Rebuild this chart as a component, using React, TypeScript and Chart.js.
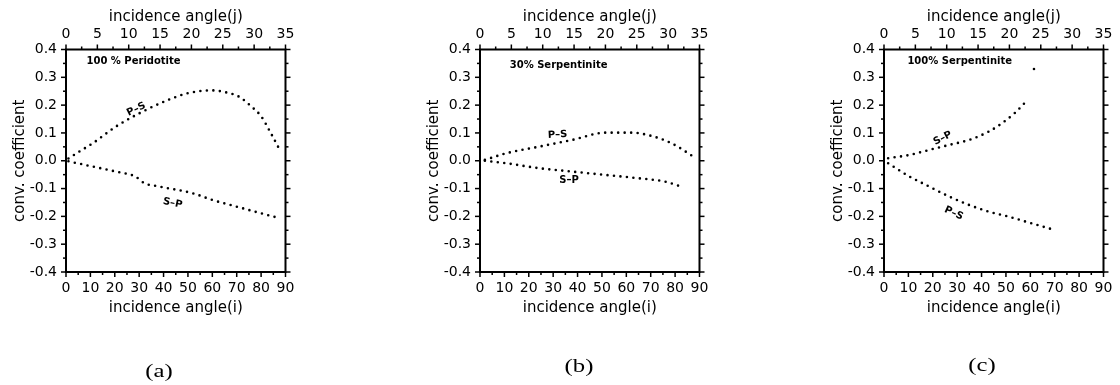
import React, { useEffect, useRef } from "react";
import { Chart, registerables } from "chart.js";
Chart.register(...registerables);

// ---------- tick labels ----------
const angleTicksI = [0, 10, 20, 30, 40, 50, 60, 70, 80, 90];
const angleTicksJ = [0, 5, 10, 15, 20, 25, 30, 35];
const coefTicks = [-0.4, -0.3, -0.2, -0.1, 0, 0.1, 0.2, 0.3, 0.4];

// ---------- (a) 100 % Peridotite ----------
const aPSAngle = [1, 6, 11, 20.5, 31.5, 42, 50, 60, 66, 71, 76, 80, 84, 88];
const aPSCoef = [0.008, 0.036, 0.063, 0.123, 0.177, 0.219, 0.243, 0.253, 0.245, 0.23, 0.195, 0.16, 0.099, 0.033];
const aSPAngle = [1, 11, 20.5, 28.5, 32, 38.5, 52, 60, 70, 80, 87.8];
const aSPCoef = [-0.002, -0.021, -0.039, -0.057, -0.08, -0.093, -0.117, -0.141, -0.165, -0.189, -0.207];

// ---------- (b) 30% Serpentinite ----------
const bPSAngle = [2, 10.8, 24.4, 37.9, 51.4, 62.2, 70.4, 78.5, 88.6];
const bPSCoef = [0.003, 0.027, 0.051, 0.075, 0.101, 0.101, 0.089, 0.063, 0.009];
const bSPAngle = [2, 10.8, 24.4, 37.9, 51.4, 65, 75.8, 82.5];
const bSPCoef = [0, -0.009, -0.027, -0.039, -0.051, -0.063, -0.075, -0.093];

// ---------- (c) 100% Serpentinite ----------
const cSPAngle = [1.7, 10.5, 18.6, 26.8, 34.9, 43, 48.4, 53.8, 56.5, 58.9];
const cSPCoef = [0.009, 0.021, 0.039, 0.057, 0.075, 0.105, 0.135, 0.173, 0.197, 0.219];
const cSPLoneAngle = [61.5];
const cSPLoneCoef = [0.33];
const cPSAngle = [1.7, 10.5, 18.6, 26.8, 34.9, 43, 51.1, 60.5, 70];
const cPSCoef = [-0.009, -0.057, -0.093, -0.129, -0.159, -0.183, -0.201, -0.225, -0.249];

type Curve = { angle: number[]; coef: number[] };
type Note = { text: string; x: number; y: number; rot: number; align: CanvasTextAlign };
type PanelSpec = {
  left: number;
  plotW: number;
  curves: Curve[];
  lone: Curve | null;
  notes: Note[];
  caption: string;
  capX: number;
  capY: number;
};

const panels: PanelSpec[] = [
  {
    left: 0,
    plotW: 221,
    curves: [
      { angle: aPSAngle, coef: aPSCoef },
      { angle: aSPAngle, coef: aSPCoef },
    ],
    lone: null,
    notes: [
      { text: "100 % Peridotite", x: 8.4, y: 0.357, rot: 0, align: "left" },
      { text: "P–S", x: 28.8, y: 0.185, rot: -26, align: "center" },
      { text: "S–P", x: 43.7, y: -0.153, rot: 12, align: "center" },
    ],
    caption: "(a)",
    capX: 159,
    capY: 370,
  },
  {
    left: 414,
    plotW: 221.7,
    curves: [
      { angle: bPSAngle, coef: bPSCoef },
      { angle: bSPAngle, coef: bSPCoef },
    ],
    lone: null,
    notes: [
      { text: "30% Serpentinite", x: 12.2, y: 0.342, rot: 0, align: "left" },
      { text: "P–S", x: 31.8, y: 0.093, rot: -3, align: "center" },
      { text: "S–P", x: 36.5, y: -0.072, rot: 0, align: "center" },
    ],
    caption: "(b)",
    capX: 579,
    capY: 365,
  },
  {
    left: 818,
    plotW: 222,
    curves: [
      { angle: cSPAngle, coef: cSPCoef },
      { angle: cPSAngle, coef: cPSCoef },
    ],
    lone: { angle: cSPLoneAngle, coef: cSPLoneCoef },
    notes: [
      { text: "100% Serpentinite", x: 9.6, y: 0.357, rot: 0, align: "left" },
      { text: "S–P", x: 24.1, y: 0.081, rot: -27, align: "center" },
      { text: "P–S", x: 28.6, y: -0.189, rot: 25, align: "center" },
    ],
    caption: "(c)",
    capX: 982,
    capY: 364,
  },
];

const CANVAS_W = 302;
const CANVAS_H = 385;
const LEFT_AXIS_W = 66;
const TOP_AXIS_H = 49.5;
const BOTTOM_AXIS_H = 50;
const PLOT_BOTTOM = 272;

const tickFont = { family: "'DejaVu Sans', sans-serif", size: 14 };
const titleFont = { family: "'DejaVu Sans', sans-serif", size: 15 };

function toPoints(c: Curve) {
  return c.angle.map((a, i) => ({ x: a, y: c.coef[i] }));
}

function makePlugin(p: PanelSpec) {
  return {
    id: "frameAndNotes",
    afterDraw(chart: any) {
      const { ctx, chartArea: ca, scales } = chart;
      const xs = scales.x;
      const xt = scales.x2;
      const ys = scales.y;
      ctx.save();
      ctx.strokeStyle = "#000";
      ctx.lineCap = "butt";
      const tick = (x1: number, y1: number, x2: number, y2: number) => {
        ctx.beginPath();
        ctx.moveTo(x1, y1);
        ctx.lineTo(x2, y2);
        ctx.stroke();
      };
      ctx.lineWidth = 1.5;
      const MAJ = 5;
      const MIN = 3;
      // bottom
      angleTicksI.forEach((v, i) => {
        const px = xs.getPixelForValue(v);
        tick(px, ca.bottom, px, ca.bottom + MAJ);
        if (i < angleTicksI.length - 1) {
          const m = xs.getPixelForValue((v + angleTicksI[i + 1]) / 2);
          tick(m, ca.bottom, m, ca.bottom + MIN);
        }
      });
      // top
      angleTicksJ.forEach((v, i) => {
        const px = xt.getPixelForValue(v);
        tick(px, ca.top, px, ca.top - MAJ);
        if (i < angleTicksJ.length - 1) {
          const m = xt.getPixelForValue((v + angleTicksJ[i + 1]) / 2);
          tick(m, ca.top, m, ca.top - MIN);
        }
      });
      // left & right
      coefTicks.forEach((v, i) => {
        const py = ys.getPixelForValue(v);
        tick(ca.left, py, ca.left - MAJ, py);
        tick(ca.right, py, ca.right + MAJ, py);
        if (i < coefTicks.length - 1) {
          const m = ys.getPixelForValue((v + coefTicks[i + 1]) / 2);
          tick(ca.left, m, ca.left - MIN, m);
          tick(ca.right, m, ca.right + MIN, m);
        }
      });
      // frame
      ctx.lineWidth = 2;
      ctx.strokeRect(ca.left, ca.top, ca.right - ca.left, ca.bottom - ca.top);

      // notes
      ctx.fillStyle = "#000";
      ctx.font = "bold 10px 'DejaVu Sans', sans-serif";
      ctx.textBaseline = "middle";
      p.notes.forEach((n) => {
        const px = xs.getPixelForValue(n.x);
        const py = ys.getPixelForValue(n.y);
        ctx.save();
        ctx.translate(px, py);
        ctx.rotate((n.rot * Math.PI) / 180);
        ctx.textAlign = n.align;
        ctx.fillText(n.text, 0, 0);
        ctx.restore();
      });
      ctx.restore();
    },
  };
}

const noGrid = { display: false, drawTicks: false };

function Panel({ p }: { p: PanelSpec }) {
  const ref = useRef<HTMLCanvasElement>(null);
  useEffect(() => {
    const rightW = CANVAS_W - LEFT_AXIS_W - p.plotW;
    const datasets: any[] = p.curves.map((c) => ({
      data: toPoints(c),
      xAxisID: "x",
      yAxisID: "y",
      borderColor: "#000",
      borderWidth: 2.6,
      borderDash: [0, 6.5],
      borderCapStyle: "round",
      pointRadius: 0,
      fill: false,
      cubicInterpolationMode: "monotone",
    }));
    if (p.lone) {
      datasets.push({
        data: toPoints(p.lone),
        xAxisID: "x",
        yAxisID: "y",
        showLine: false,
        pointRadius: 1.3,
        pointBorderWidth: 0,
        pointBackgroundColor: "#000",
        borderColor: "#000",
      });
    }
    const chart = new Chart(ref.current as HTMLCanvasElement, {
      type: "line",
      data: { datasets },
      options: {
        responsive: false,
        animation: false,
        events: [],
        layout: { padding: { left: 0, right: 0, top: 0, bottom: CANVAS_H - PLOT_BOTTOM - BOTTOM_AXIS_H } },
        plugins: { legend: { display: false }, tooltip: { enabled: false } },
        scales: {
          x: {
            type: "linear",
            position: "bottom",
            min: 0,
            max: 90,
            grid: noGrid,
            border: { display: false },
            afterBuildTicks: (s: any) => {
              s.ticks = angleTicksI.map((v) => ({ value: v }));
            },
            ticks: {
              padding: 7.6,
              font: tickFont,
              color: "#000",
              maxRotation: 0,
              autoSkip: false,
              callback: (v: any) => String(v),
            },
            title: {
              display: true,
              text: "incidence angle(i)",
              font: titleFont,
              color: "#000",
              padding: { top: 0, bottom: 5 },
            },
            afterFit: (s: any) => {
              s.height = BOTTOM_AXIS_H;
            },
          },
          x2: {
            type: "linear",
            position: "top",
            axis: "x",
            min: 0,
            max: 35,
            grid: noGrid,
            border: { display: false },
            afterBuildTicks: (s: any) => {
              s.ticks = angleTicksJ.map((v) => ({ value: v }));
            },
            ticks: {
              padding: 7.1,
              font: tickFont,
              color: "#000",
              maxRotation: 0,
              autoSkip: false,
              callback: (v: any) => String(v),
            },
            title: {
              display: true,
              text: "incidence angle(j)",
              font: titleFont,
              color: "#000",
              padding: { top: 8.5, bottom: 0 },
            },
            afterFit: (s: any) => {
              s.height = TOP_AXIS_H;
            },
          },
          y: {
            type: "linear",
            position: "left",
            min: -0.4,
            max: 0.4,
            grid: noGrid,
            border: { display: false },
            afterBuildTicks: (s: any) => {
              s.ticks = coefTicks.map((v) => ({ value: v }));
            },
            ticks: {
              padding: 9,
              font: tickFont,
              color: "#000",
              autoSkip: false,
              callback: (v: any) => {
                const n = Number(v);
                return Math.abs(n) < 1e-9 ? "0.0" : n.toFixed(1);
              },
            },
            title: {
              display: true,
              text: "conv. coefficient",
              font: titleFont,
              color: "#000",
              padding: { top: 11.5, bottom: 0 },
            },
            afterFit: (s: any) => {
              s.width = LEFT_AXIS_W;
            },
          },
          y2: {
            type: "linear",
            position: "right",
            axis: "y",
            min: -0.4,
            max: 0.4,
            grid: noGrid,
            border: { display: false },
            ticks: { display: false },
            afterFit: (s: any) => {
              s.width = rightW;
            },
          },
        },
      } as any,
      plugins: [makePlugin(p)],
    });
    return () => chart.destroy();
  }, [p]);
  return (
    <canvas
      ref={ref}
      width={CANVAS_W}
      height={CANVAS_H}
      style={{ position: "absolute", left: p.left, top: 0, width: CANVAS_W, height: CANVAS_H, display: "block" }}
    />
  );
}

export default function App() {
  return (
    <div style={{ position: "absolute", left: 0, top: 0, width: 1120, height: 385, background: "#fff", overflow: "hidden" }}>
      {panels.map((p, i) => (
        <Panel key={i} p={p} />
      ))}
      {panels.map((p, i) => (
        <div
          key={"c" + i}
          style={{
            position: "absolute",
            left: p.capX,
            top: p.capY,
            transform: "translate(-50%, -50%) scaleX(1.3)",
            fontFamily: "'Liberation Serif', serif",
            fontSize: 19,
            lineHeight: 1,
            color: "#000",
            whiteSpace: "nowrap",
          }}
        >
          {p.caption}
        </div>
      ))}
    </div>
  );
}
